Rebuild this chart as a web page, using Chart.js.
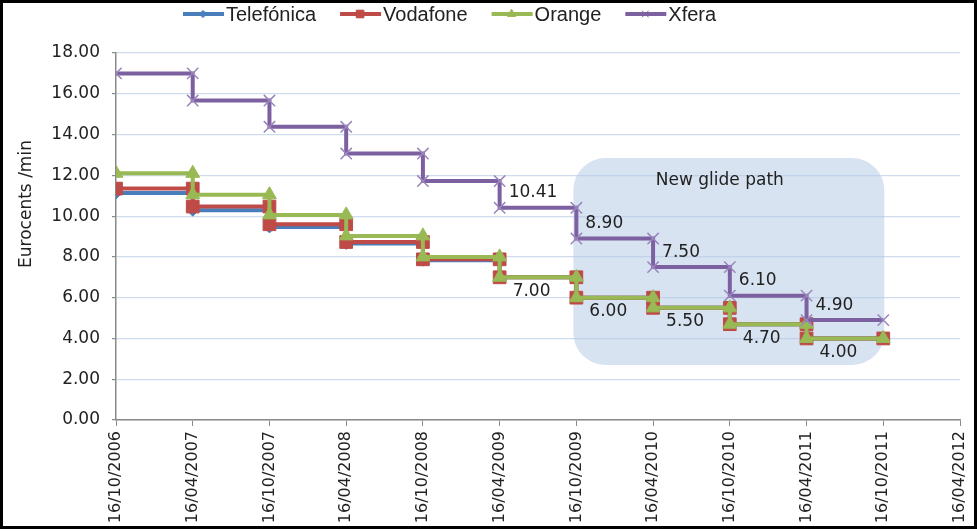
<!DOCTYPE html>
<html>
<head>
<meta charset="utf-8">
<script src="https://cdn.jsdelivr.net/npm/chart.js@4/dist/chart.umd.min.js"></script>
<style>
  html, body { margin: 0; padding: 0; background: #fff; }
  #wrap { width: 977px; height: 531px; position: relative; }
</style>
</head>
<body>
<div id="wrap"><canvas id="chart"></canvas></div>
<script>
// dates on the x axis (one tick per six months)
const dates = ['16/10/2006', '16/04/2007', '16/10/2007', '16/04/2008', '16/10/2008', '16/04/2009',
               '16/10/2009', '16/04/2010', '16/10/2010', '16/04/2011', '16/10/2011', '16/04/2012'];

// rate in force from each date (eurocents/min)
const telefonica = [11.13, 10.29, 9.47, 8.66, 7.84, 7.00, 6.00, 5.50, 4.70, 4.00];
const vodafone   = [11.35, 10.47, 9.60, 8.73, 7.88, 7.00, 6.00, 5.50, 4.70, 4.00];
const orange     = [12.10, 11.05, 10.06, 9.03, 8.00, 7.00, 6.00, 5.50, 4.70, 4.00];
const xfera      = [17.00, 15.67, 14.38, 13.07, 11.72, 10.41, 8.90, 7.50, 6.10, 4.90];

// glide path labels start at this period
const labelFrom = 5;

const yTicks = [0, 2, 4, 6, 8, 10, 12, 14, 16, 18];

// each change is plotted as two points on the same date (old rate, new rate)
function steps(rates) {
    const pts = [{ x: 0, y: rates[0] }];
    for (let i = 1; i < rates.length; i++) {
        pts.push({ x: i, y: rates[i - 1] });
        pts.push({ x: i, y: rates[i] });
    }
    pts.push({ x: rates.length, y: rates[rates.length - 1] });
    return pts;
}

const series = [
    { label: 'Telefónica', data: telefonica, color: '#4a7ebb', marker: 'rectRot', radius: 6, order: 4 },
    { label: 'Vodafone', data: vodafone, color: '#be4b48', marker: 'rect', radius: 9, order: 3 },
    { label: 'Orange', data: orange, color: '#98b954', marker: 'triangle', radius: 8, order: 2 },
    { label: 'Xfera', data: xfera, color: '#7d60a0', marker: 'crossRot', radius: 8, order: 1 }
];

const FONT = '"DejaVu Sans", sans-serif';

const extras = {
    id: 'extras',
    beforeDatasetsDraw(chart) {
        const { ctx, scales: { x, y } } = chart;
        const l = x.getPixelForValue(6) - 3, r = x.getPixelForValue(10) + 1;
        const t = y.getPixelForValue(12.85), b = y.getPixelForValue(2.7);
        ctx.save();
        ctx.fillStyle = 'rgba(178, 200, 228, 0.5)';
        ctx.beginPath();
        ctx.roundRect(l, t, r - l, b - t, 32);
        ctx.fill();
        ctx.fillStyle = '#222';
        ctx.font = '17px ' + FONT;
        ctx.textAlign = 'center';
        ctx.textBaseline = 'middle';
        ctx.fillText('New glide path', (l + r) / 2 - 9, y.getPixelForValue(11.75));
        ctx.restore();
    },
    afterDraw(chart) {
        const { ctx, scales: { x, y } } = chart;
        ctx.save();
        // value labels for the new glide path
        ctx.fillStyle = '#222';
        ctx.font = '17px ' + FONT;
        ctx.textAlign = 'left';
        ctx.textBaseline = 'middle';
        for (let i = labelFrom; i < xfera.length; i++) {
            ctx.fillText(xfera[i].toFixed(2), x.getPixelForValue(i) + 9, y.getPixelForValue(xfera[i]) - 15);
            ctx.fillText(orange[i].toFixed(2), x.getPixelForValue(i) + 13, y.getPixelForValue(orange[i]) + 14);
        }
        // y axis title
        ctx.save();
        ctx.translate(27, 204);
        ctx.rotate(-Math.PI / 2);
        ctx.textAlign = 'center';
        ctx.fillText('Eurocents /min', 0, 0);
        ctx.restore();
        // legend
        ctx.font = '20px "Liberation Sans", Arial, sans-serif';
        let lx = 183;
        const ly = 14;
        series.forEach(s => {
            ctx.strokeStyle = s.color;
            ctx.lineWidth = 4;
            ctx.beginPath();
            ctx.moveTo(lx, ly);
            ctx.lineTo(lx + 41, ly);
            ctx.stroke();
            ctx.fillStyle = s.color;
            ctx.lineWidth = 1;
            Chart.helpers.drawPoint(ctx, { pointStyle: s.marker, radius: s.radius * 0.6, rotation: 0, borderWidth: 1 }, lx + 20, ly);
            ctx.fillStyle = '#222';
            ctx.fillText(s.label, lx + 43, ly + 1);
            lx += 43 + ctx.measureText(s.label).width + 24;
        });
        // frame
        ctx.strokeStyle = '#000';
        ctx.lineWidth = 3;
        ctx.strokeRect(1.5, 1.5, 974, 526);
        ctx.restore();
    }
};

new Chart(document.getElementById('chart'), {
    type: 'line',
    data: {
        datasets: series.map(s => ({
            label: s.label,
            data: steps(s.data),
            borderColor: s.color,
            backgroundColor: s.color,
            borderWidth: 4,
            pointStyle: s.marker,
            pointRadius: s.radius,
            pointBorderWidth: s.marker === 'crossRot' ? 1.5 : 1,
            pointBorderColor: s.marker === 'crossRot' ? '#9a86bd' : s.color,
            pointHoverRadius: s.radius,
            tension: 0,
            order: s.order
        }))
    },
    plugins: [extras],
    options: {
        responsive: true,
        maintainAspectRatio: false,
        animation: false,
        events: [],
        layout: { padding: { top: 53, right: 17, left: 0, bottom: 0 } },
        plugins: {
            legend: { display: false },
            tooltip: { enabled: false }
        },
        scales: {
            x: {
                type: 'linear',
                min: 0,
                max: dates.length - 1,
                afterFit(scale) {
                    scale.height = 111;
                    scale.paddingLeft = 0;
                    scale.paddingRight = 0;
                },
                afterBuildTicks(scale) { scale.ticks = dates.map((d, i) => ({ value: i })); },
                ticks: {
                    autoSkip: false,
                    minRotation: 90,
                    maxRotation: 90,
                    padding: 5,
                    color: '#222',
                    font: { family: FONT, size: 16 },
                    callback: v => dates[v]
                },
                grid: { drawOnChartArea: false, tickLength: 6, color: '#8a8a8a' },
                border: { color: '#8a8a8a', width: 1.5 }
            },
            y: {
                min: 0,
                max: 18,
                afterFit(scale) {
                    scale.width = 116;
                    scale.paddingTop = 0;
                    scale.paddingBottom = 0;
                },
                afterBuildTicks(scale) { scale.ticks = yTicks.map(v => ({ value: v })); },
                ticks: {
                    padding: 12,
                    color: '#222',
                    font: { family: FONT, size: 17 },
                    callback: v => v.toFixed(2)
                },
                grid: { color: '#cfdcee', lineWidth: 1.2, tickLength: 4, tickColor: '#8a8a8a' },
                border: { color: '#8a8a8a', width: 1.5 }
            }
        }
    }
});
</script>
</body>
</html>
